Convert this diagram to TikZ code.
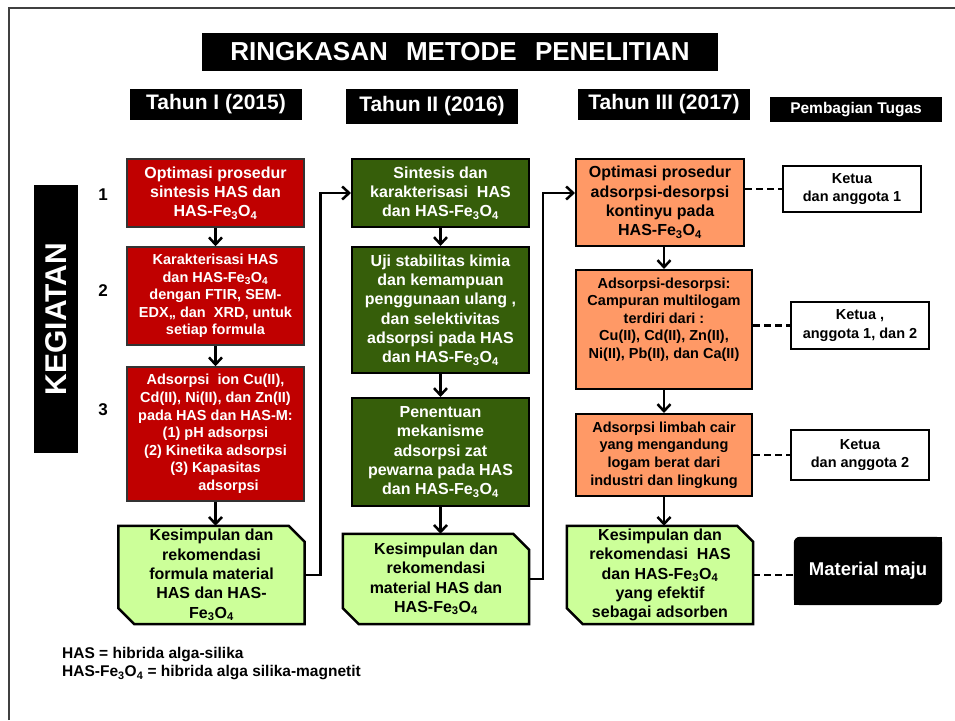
\documentclass[tikz,border=0pt]{standalone}
\usepackage{fontspec}
\setmainfont{Liberation Sans}
\usetikzlibrary{arrows.meta,backgrounds}
\definecolor{boxred}{HTML}{C00000}
\definecolor{boxgreen}{RGB}{54,94,10}
\definecolor{boxorange}{HTML}{FF9966}
\definecolor{boxlime}{HTML}{CCFF99}
\newcommand{\fe}{Fe\textsubscript{3}O\textsubscript{4}}
\begin{document}
\begin{tikzpicture}[x=1pt, y=-1pt,
    every node/.style={inner sep=0pt, align=center},
    >={Straight Barb[length=7pt,width=13pt]},
    txtbig/.style={font=\fontsize{16}{19.3}\selectfont\bfseries},
    txtsmall/.style={font=\fontsize{14.5}{17.6}\selectfont\bfseries},
    hdr/.style={fill=black, text=white, font=\fontsize{21}{25}\selectfont\bfseries},
    redbox/.style={draw=black!80, line width=1.5pt, fill=boxred, text=white, minimum width=177},
    greenbox/.style={draw=black, line width=2pt, fill=boxgreen, text=white, minimum width=177},
    orangebox/.style={draw=black, line width=2pt, fill=boxorange},
    kesbox/.style={txtbig, minimum width=186},
    tugasbox/.style={draw=black, line width=2.5pt, fill=white, minimum width=138, font=\fontsize{14.5}{18.5}\selectfont\bfseries},
    flow/.style={->, line width=2.5pt},
    link/.style={line width=2.5pt, dash pattern=on 7pt off 4pt}]
    \useasboundingbox (0,0) rectangle (955,720);

    % 框线
    \draw[line width=2pt, black!75] (9,720) -- (9,8) -- (955,8);

    % 标题
    \node[hdr, font=\fontsize{26}{30}\selectfont\bfseries, minimum width=516, minimum height=38] (title) at (460,52) {RINGKASAN\hspace{11pt} METODE\hspace{11pt} PENELITIAN};
    \node[hdr, minimum width=172, minimum height=31] (th1) at (216,104.5) {Tahun I (2015)};
    \node[hdr, minimum width=172, minimum height=35] (th2) at (432,106.5) {Tahun II (2016)};
    \node[hdr, minimum width=172, minimum height=31] (th3) at (664,104.5) {Tahun III (2017)};
    \node[hdr, font=\fontsize{15.5}{18}\selectfont\bfseries, minimum width=172, minimum height=25] (tugas) at (856,109.5) {Pembagian Tugas};

    % 左侧
    \node[fill=black, text=white, rotate=90, minimum width=268, minimum height=44, font=\fontsize{30}{36}\selectfont\bfseries] (kegiatan) at (56,319) {KEGIATAN};
    \node[font=\fontsize{17}{20}\selectfont\bfseries] (n1) at (103,195) {1};
    \node[font=\fontsize{17}{20}\selectfont\bfseries] (n2) at (103,291) {2};
    \node[font=\fontsize{17}{20}\selectfont\bfseries] (n3) at (103,410) {3};

    % Tahun I
    \node[redbox, txtbig, minimum height=68] (r1) at (215.5,193) {Optimasi prosedur\\sintesis HAS dan\\HAS-\fe};
    \node[redbox, txtsmall, minimum height=98] (r2) at (215.5,296) {Karakterisasi HAS\\dan HAS-\fe\\dengan FTIR, SEM-\\EDX,, dan\ \ XRD, untuk\\setiap formula};
    \node[redbox, txtsmall, minimum height=134] (r3) at (215.5,434) {Adsorpsi\ \ ion Cu(II),\\Cd(II), Ni(II), dan Zn(II)\\pada HAS dan HAS-M:\\(1)\ pH adsorpsi\\(2)\ Kinetika adsorpsi\\(3)\ Kapasitas\\\hspace*{26pt}adsorpsi};
    \node[kesbox, minimum height=98] (k1) at (211.5,575) {Kesimpulan dan\\rekomendasi\\formula material\\HAS dan HAS-\\\fe};

    % Tahun II
    \node[greenbox, txtbig, minimum height=68] (g1) at (440.5,193) {Sintesis dan\\karakterisasi\ \ HAS\\dan HAS-\fe};
    \node[greenbox, txtbig, minimum height=126] (g2) at (440.5,310) {Uji stabilitas kimia\\dan kemampuan\\penggunaan ulang ,\\dan selektivitas\\adsorpsi pada HAS\\dan HAS-\fe};
    \node[greenbox, txtbig, minimum height=108] (g3) at (440.5,452) {Penentuan\\mekanisme\\adsorpsi zat\\pewarna pada HAS\\dan HAS-\fe};
    \node[kesbox, minimum height=90] (k2) at (436,579) {Kesimpulan dan\\rekomendasi\\material HAS dan\\HAS-\fe};

    % Tahun III
    \node[orangebox, txtbig, minimum width=168, minimum height=87] (o1) at (660,202.5) {Optimasi prosedur\\adsorpsi-desorpsi\\kontinyu pada\\HAS-\fe};
    \node[orangebox, txtsmall, minimum width=176, minimum height=119] (o2) at (664,329.5) {Adsorpsi-desorpsi:\\Campuran multilogam\\terdiri dari :\\Cu(II), Cd(II), Zn(II),\\Ni(II), Pb(II), dan Ca(II)\\\strut};
    \node[orangebox, txtsmall, minimum width=176, minimum height=82] (o3) at (664,455) {Adsorpsi limbah cair\\yang mengandung\\logam berat dari\\industri dan lingkung};
    \node[kesbox, minimum height=98] (k3) at (660,575) {Kesimpulan dan\\rekomendasi\ \ HAS\\dan HAS-\fe\\yang efektif\\sebagai adsorben};

    % Pembagian Tugas
    \node[tugasbox, minimum height=46] (t1) at (852,189) {Ketua\\dan anggota 1};
    \node[tugasbox, minimum height=47] (t2) at (860,325.5) {Ketua ,\\anggota 1, dan 2};
    \node[tugasbox, minimum height=50] (t3) at (860,455) {Ketua\\dan anggota 2};
    \node[text=white, font=\fontsize{18.5}{22}\selectfont\bfseries, minimum width=148, minimum height=68] (maju) at (868,571) {Material maju};

    \begin{scope}[on background layer]
        \foreach \k in {k1,k2,k3}
            \draw[line width=2.5pt, fill=boxlime] (\k.north west) -- ([xshift=-16pt]\k.north east) -- ([yshift=-16pt]\k.north east) -- (\k.south east) -- ([xshift=16pt]\k.south west) -- ([yshift=16pt]\k.south west) -- cycle;
        \fill[rounded corners=6pt] (maju.north west) rectangle (maju.south east);
        \fill (maju.north east) rectangle ([xshift=-8pt,yshift=-8pt]maju.north east);
        \fill (maju.south west) rectangle ([xshift=8pt,yshift=8pt]maju.south west);
    \end{scope}

    % 箭头
    \draw[flow] (r1) -- (r2);
    \draw[flow] (r2) -- (r3);
    \draw[flow] (r3) -- (r3.south |- k1.north);
    \draw[flow] (k1.east) -- ++(16,0) |- (g1.west);
    \draw[flow] (g1) -- (g2);
    \draw[flow] (g2) -- (g3);
    \draw[flow] (g3) -- (g3.south |- k2.north);
    \draw[flow] (k2.east) -- ++(14,0) |- (o1.west |- g1.west);
    \draw[flow] (o1.south -| o2.north) -- (o2.north);
    \draw[flow] (o2) -- (o3);
    \draw[flow] (o3) -- (o3.south |- k3.north);

    % 虚线
    \draw[link] (o1.east |- t1.west) -- (t1.west);
    \draw[link] (o2.east |- t2.west) -- (t2.west);
    \draw[link] (o3.east) -- (t3.west);
    \draw[link] (k3.east) -- (k3.east -| maju.west);

    % 说明
    \node[anchor=west, align=left, font=\fontsize{15.5}{18}\selectfont\bfseries] (legend) at (62,664) {HAS = hibrida alga-silika\\HAS-\fe\ = hibrida alga silika-magnetit};
\end{tikzpicture}
\end{document}
